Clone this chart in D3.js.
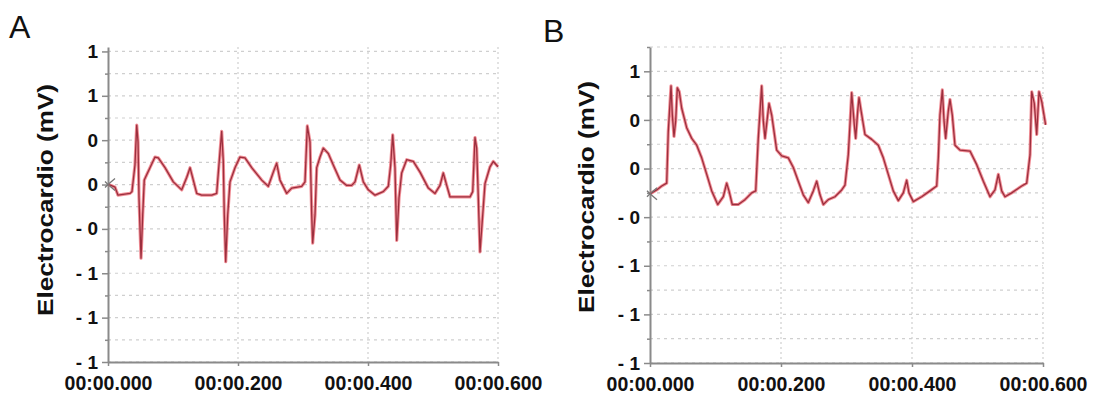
<!DOCTYPE html>
<html>
<head>
<meta charset="utf-8">
<script src="https://cdn.jsdelivr.net/npm/d3@7"></script>
<style>
  html, body { margin: 0; padding: 0; background: #fff; }
  svg { display: block; font-family: "Liberation Sans", Arial, sans-serif; }
</style>
</head>
<body>
<svg id="chart" width="1110" height="401"></svg>
<script>
// ---------------- data ----------------
const timeTicks = [0, 0.2, 0.4, 0.6];
const timeTickLabels = ["00:00.000", "00:00.200", "00:00.400", "00:00.600"];

const yTicksA = [1.5, 1, 0.5, 0, -0.5, -1, -1.5, -2];
const yTickLabelsA = ["1", "1", "0", "0", "- 0", "- 1", "- 1", "- 1"];
const yMinorA = [1.25, 0.75, 0.25, -0.25, -0.75, -1.25, -1.75];

const yTicksB = [1, 0.5, 0, -0.5, -1, -1.5, -2];
const yTickLabelsB = ["1", "0", "0", "- 0", "- 1", "- 1", "- 1"];
const yMinorB = [1.25, 0.75, 0.25, -0.25, -0.75, -1.25, -1.75];

// Panel A: time (s) and potential (mV)
const timeA = [0,0.0046,0.0108,0.0154,0.0338,0.0369,0.0415,0.0442,0.0462,0.0477,0.0508,0.0534,0.0558,0.0595,0.0646,0.0723,0.0774,0.0877,0.1005,0.1134,0.1211,0.1262,0.1312,0.1365,0.1442,0.1595,0.1672,0.1697,0.1749,0.1774,0.1789,0.1811,0.1842,0.1877,0.1954,0.2031,0.2108,0.2211,0.2365,0.2466,0.2543,0.2595,0.2646,0.2749,0.2826,0.2980,0.3031,0.3066,0.3108,0.3134,0.3149,0.3185,0.3211,0.3262,0.3312,0.3389,0.3466,0.3569,0.3672,0.3749,0.3800,0.3866,0.3928,0.4005,0.4108,0.4235,0.4312,0.4349,0.4380,0.4415,0.4442,0.4477,0.4518,0.4595,0.4697,0.4800,0.4928,0.5031,0.5108,0.5158,0.5211,0.5262,0.5365,0.5569,0.5611,0.5646,0.5672,0.5697,0.5723,0.5765,0.5800,0.5877,0.5928,0.6000];
const valueA = [0.00,-0.01,-0.03,-0.12,-0.10,-0.08,0.22,0.67,0.48,-0.15,-0.83,-0.34,0.05,0.11,0.19,0.31,0.30,0.19,0.03,-0.06,0.08,0.19,0.05,-0.10,-0.12,-0.12,-0.10,0.13,0.60,0.26,-0.34,-0.87,-0.34,0.03,0.19,0.31,0.30,0.19,0.05,-0.02,0.14,0.24,0.05,-0.10,-0.04,-0.02,0.03,0.66,0.48,-0.34,-0.66,-0.34,0.19,0.31,0.41,0.35,0.22,0.05,-0.01,-0.01,0.03,0.22,0.03,-0.06,-0.12,-0.08,-0.02,0.22,0.56,0.19,-0.63,-0.15,0.13,0.28,0.26,0.14,-0.04,-0.10,-0.01,0.13,-0.01,-0.14,-0.14,-0.14,-0.08,0.53,0.41,-0.15,-0.76,-0.34,0.01,0.20,0.26,0.20];

// Panel B: time (s) and potential (mV)
const timeB = [0,0.0102,0.0179,0.0255,0.0279,0.0321,0.0341,0.0366,0.0392,0.0417,0.0447,0.0484,0.0560,0.0637,0.0713,0.0789,0.0866,0.0942,0.1034,0.1119,0.1171,0.1206,0.1256,0.1348,0.1450,0.1553,0.1614,0.1653,0.1705,0.1730,0.1756,0.1817,0.1858,0.1934,0.2011,0.2111,0.2188,0.2264,0.2340,0.2417,0.2493,0.2545,0.2595,0.2646,0.2722,0.2824,0.2927,0.2977,0.3027,0.3053,0.3079,0.3119,0.3140,0.3171,0.3191,0.3221,0.3282,0.3385,0.3485,0.3562,0.3638,0.3714,0.3791,0.3867,0.3919,0.3954,0.4020,0.4148,0.4275,0.4377,0.4402,0.4427,0.4463,0.4489,0.4514,0.4554,0.4580,0.4615,0.4656,0.4733,0.4885,0.4988,0.5089,0.5191,0.5267,0.5318,0.5369,0.5420,0.5522,0.5675,0.5751,0.5802,0.5828,0.5867,0.5904,0.5939,0.5980,0.6040];
const valueB = [-0.26,-0.22,-0.18,-0.15,0.38,0.85,0.55,0.33,0.49,0.83,0.79,0.62,0.42,0.31,0.24,0.11,-0.06,-0.23,-0.37,-0.29,-0.15,-0.23,-0.37,-0.37,-0.32,-0.25,-0.23,0.31,0.85,0.49,0.31,0.67,0.55,0.19,0.13,0.11,0.01,-0.13,-0.27,-0.35,-0.23,-0.13,-0.27,-0.37,-0.32,-0.29,-0.22,-0.17,0.14,0.45,0.78,0.45,0.31,0.59,0.73,0.60,0.35,0.30,0.24,0.11,-0.06,-0.23,-0.33,-0.25,-0.12,-0.25,-0.34,-0.29,-0.23,-0.18,0.11,0.55,0.81,0.49,0.31,0.59,0.71,0.55,0.24,0.19,0.18,0.04,-0.13,-0.29,-0.22,-0.06,-0.23,-0.29,-0.25,-0.18,-0.15,0.14,0.79,0.67,0.35,0.79,0.69,0.45];

// ---------------- drawing ----------------
const svg = d3.select("#chart");
const FONT = '"Liberation Sans", Arial, sans-serif';

function panel(cfg) {
  const x = d3.scaleLinear().domain([0, 0.6]).range(cfg.xRange);
  const y = d3.scaleLinear().domain(cfg.yDomain).range(cfg.yRange);
  const g = svg.append("g");
  const [x0, x1] = cfg.xRange;
  const [yb, yt] = cfg.yRange;

  // horizontal dashed grid (major + minor)
  g.append("g").selectAll("line")
    .data(cfg.yTicks.concat(cfg.yMinor))
    .join("line")
    .attr("x1", x0).attr("x2", x1)
    .attr("y1", d => y(d)).attr("y2", d => y(d))
    .attr("stroke", "#cfcfcf").attr("stroke-width", 1.2)
    .attr("stroke-dasharray", "3,4");

  // vertical dotted grid
  g.append("g").selectAll("line")
    .data(timeTicks.slice(1))
    .join("line")
    .attr("x1", d => x(d)).attr("x2", d => x(d))
    .attr("y1", yt).attr("y2", yb)
    .attr("stroke", "#cfcfcf").attr("stroke-width", 1.2)
    .attr("stroke-dasharray", "2,3");

  // left axis: minor ticks
  g.append("g").attr("transform", `translate(${x0},0)`)
    .call(d3.axisLeft(y).tickValues(cfg.yMinor).tickFormat("").tickSize(3).tickSizeOuter(0))
    .call(s => s.select(".domain").remove())
    .call(s => s.selectAll(".tick line").attr("stroke", "#8a8a8a").attr("stroke-width", 1.5));

  // left axis: major ticks and labels
  g.append("g").attr("transform", `translate(${x0},0)`)
    .call(d3.axisLeft(y).tickValues(cfg.yTicks).tickFormat((d, i) => cfg.yLabels[i]).tickSize(6).tickPadding(4).tickSizeOuter(0))
    .call(s => s.select(".domain").attr("stroke", "#8a8a8a").attr("stroke-width", 2))
    .call(s => s.selectAll(".tick line").attr("stroke", "#8a8a8a").attr("stroke-width", 1.5))
    .call(s => s.selectAll(".tick text").attr("font-family", FONT).attr("font-size", 19)
      .attr("font-weight", "bold").attr("fill", "#111"));

  // bottom axis
  g.append("g").attr("transform", `translate(0,${yb})`)
    .call(d3.axisBottom(x).tickValues(timeTicks).tickFormat((d, i) => timeTickLabels[i]).tickSize(4).tickPadding(10).tickSizeOuter(0))
    .call(s => s.select(".domain").attr("stroke", "#8a8a8a").attr("stroke-width", 2))
    .call(s => s.selectAll(".tick line").attr("stroke", "#8a8a8a").attr("stroke-width", 1.5))
    .call(s => s.selectAll(".tick text").attr("font-family", FONT).attr("font-size", 19.5)
      .attr("font-weight", "bold").attr("fill", "#111"));

  // trace
  const pts = cfg.t.map((t, i) => ({ t, v: cfg.v[i] }));
  const line = d3.line().x(d => x(d.t)).y(d => y(d.v));
  g.append("path").datum(pts).attr("d", line)
    .attr("fill", "none").attr("stroke", "#ec6a74").attr("stroke-width", 3.2)
    .attr("stroke-opacity", 0.75).attr("stroke-linejoin", "round");
  g.append("path").datum(pts).attr("d", line)
    .attr("fill", "none").attr("stroke", "#9c2f3e").attr("stroke-width", 1.3)
    .attr("stroke-linejoin", "round");

  // start marker
  const mx = x(pts[0].t), my = y(pts[0].v);
  g.append("path")
    .attr("d", `M${mx + 7},${my - 6}L${mx},${my}L${mx + 7},${my + 6}M${mx - 3},${my - 3}L${mx},${my}L${mx - 3},${my + 3}`)
    .attr("fill", "none").attr("stroke", "#777").attr("stroke-width", 1.3);

  // y title
  g.append("text")
    .attr("transform", `translate(${cfg.titleX},${cfg.titleY}) rotate(-90)`)
    .attr("text-anchor", "middle")
    .attr("font-family", FONT).attr("font-size", 22).attr("font-weight", "bold")
    .attr("textLength", 232).attr("lengthAdjust", "spacingAndGlyphs")
    .attr("fill", "#111")
    .text("Electrocardio (mV)");

  // panel letter
  svg.append("text").attr("x", cfg.letterX).attr("y", cfg.letterY)
    .attr("font-family", FONT).attr("font-size", 32).attr("fill", "#111")
    .text(cfg.letter);
}

panel({
  xRange: [108, 498], yDomain: [-2, 1.55], yRange: [362, 47],
  yTicks: yTicksA, yLabels: yTickLabelsA, yMinor: yMinorA,
  t: timeA, v: valueA, titleX: 53, titleY: 200,
  letter: "A", letterX: 9, letterY: 38
});
panel({
  xRange: [650, 1043], yDomain: [-2, 1.25], yRange: [363, 47],
  yTicks: yTicksB, yLabels: yTickLabelsB, yMinor: yMinorB,
  t: timeB, v: valueB, titleX: 594, titleY: 197,
  letter: "B", letterX: 543, letterY: 42
});
</script>
</body>
</html>
